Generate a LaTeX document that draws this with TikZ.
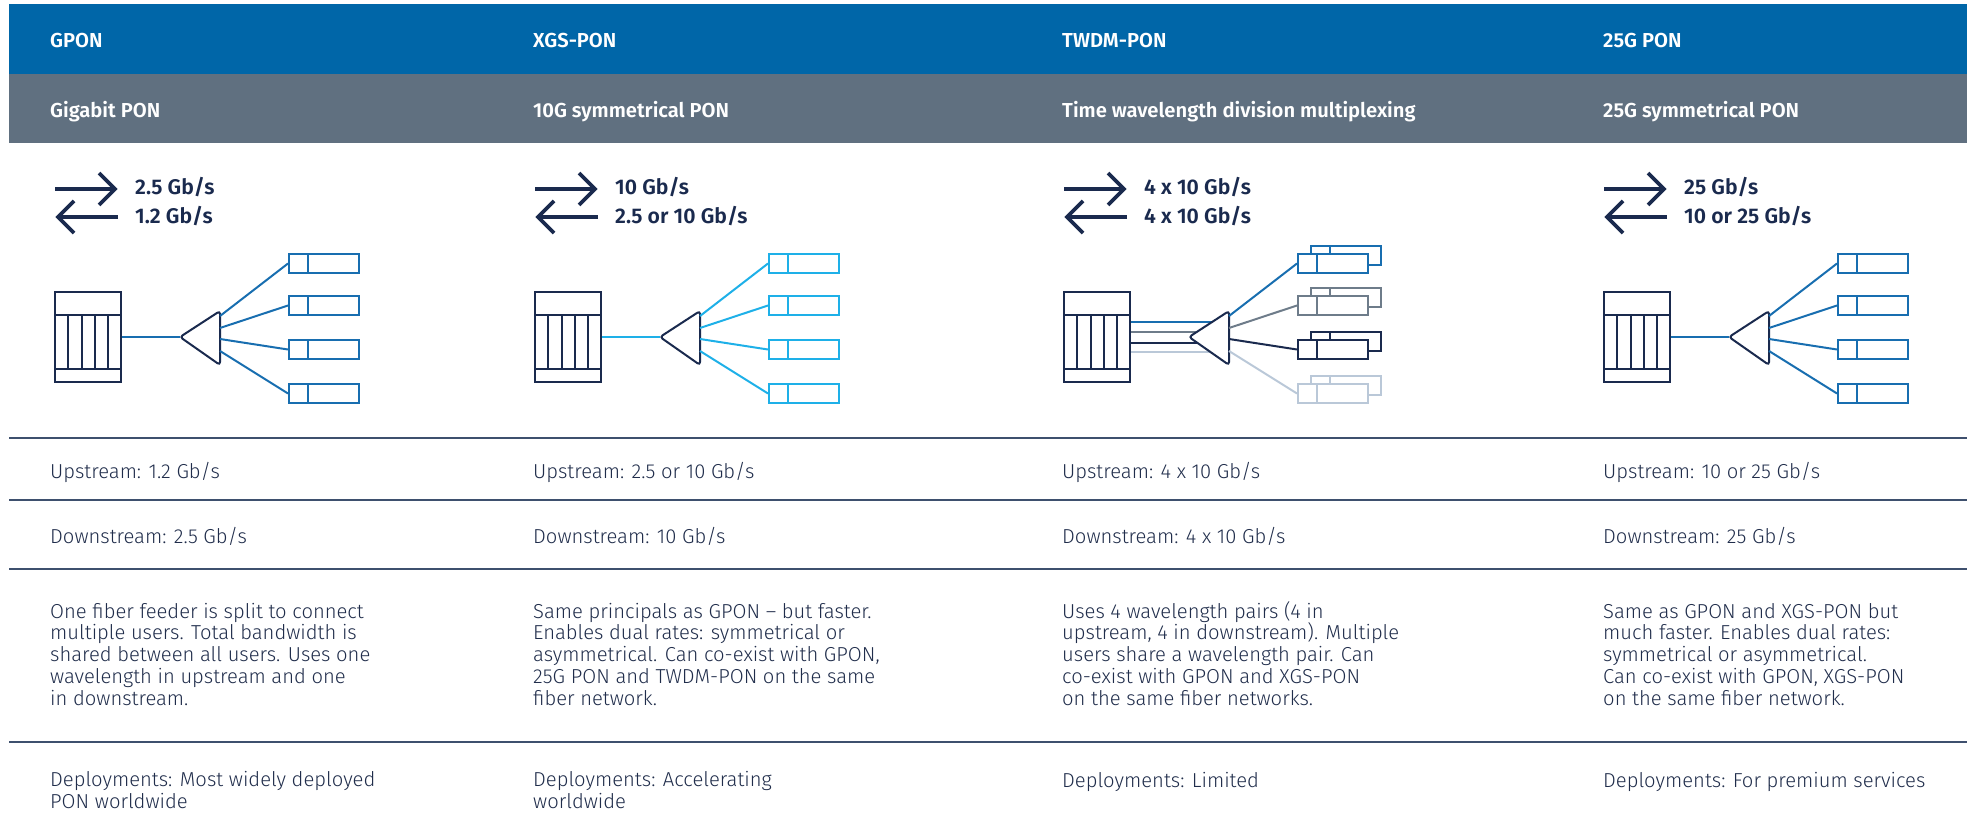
\documentclass[tikz,border=0pt]{standalone}
\usepackage{fontspec}
\IfFontExistsTF{Fira Sans Light}{\newfontfamily\bfont{Fira Sans Light}}{\newfontfamily\bfont{Fira Sans}}
\newfontfamily\firabase{Fira Sans}
\IfFontExistsTF{Fira Sans SemiBold}{\newfontfamily\hfont{Fira Sans SemiBold}}{\newcommand\hfont{\firabase\bfseries}}
\definecolor{bandblue}{RGB}{0,102,168}
\definecolor{bandgray}{RGB}{96,112,128}
\definecolor{navy}{RGB}{26,42,78}
\definecolor{bodytxt}{RGB}{32,45,75}
\definecolor{rulec}{RGB}{62,80,110}
\definecolor{gponblue}{RGB}{24,110,176}
\definecolor{xgscyan}{RGB}{30,176,232}
\definecolor{twgray}{RGB}{110,124,138}
\definecolor{twlight}{RGB}{186,200,216}
\tikzset{
  head/.style={inner sep=0pt, text=white, font=\hfont\fontsize{20.2}{24}\selectfont, anchor=base west},
  rate/.style={inner sep=0pt, text=navy, font=\hfont\fontsize{21.2}{24}\selectfont, anchor=base west},
  body/.style={inner sep=0pt, text=bodytxt, font=\bfont\fontsize{20.2}{21.7}\selectfont, anchor=base west, align=left},
  rulel/.style={draw=rulec, line width=2pt},
  icon/.style={draw=navy, line width=3.8pt, line join=miter},
  olt/.style={draw=navy, line width=2pt, fill=white, minimum width=66pt, minimum height=90pt, inner sep=0pt},
  oltin/.style={draw=navy, line width=2pt},
  splitter/.style={draw=navy, line width=2pt, fill=white, rounded corners=3pt},
  onu/.style={draw=#1, line width=2pt, fill=white, minimum width=70pt, minimum height=19pt, inner sep=0pt},
  onuin/.style={draw=#1, line width=2pt},
  fiber/.style={draw=#1, line width=2pt},
}
\begin{document}
\begin{tikzpicture}[x=1pt,y=-1pt]
\useasboundingbox (0,0) rectangle (1967,832);
% bands
\fill[bandblue] (9,4) rectangle (1967,74);
\fill[bandgray] (9,74) rectangle (1967,143);
% rules
\foreach \yy in {438,500,569,742} \draw[rulel] (9,\yy) -- (1967,\yy);
% headers
\node[head] (h1) at (50,48) {GPON};
\node[head] (h2) at (533,48) {XGS-PON};
\node[head] (h3) at (1062,48) {TWDM-PON};
\node[head] (h4) at (1603,48) {25G PON};
\node[head] (s1) at (50,118) {Gigabit PON};
\node[head] (s2) at (533,118) {10G symmetrical PON};
\node[head] (s3) at (1062,118) {Time wavelength division multiplexing};
\node[head] (s4) at (1603,118) {25G symmetrical PON};
% rate icons
\foreach \i/\gx in {1/55,2/535,3/1064,4/1604}{
  \begin{scope}[xshift=\gx]
    \coordinate (ra\i) at (0,189); \coordinate (rb\i) at (60,189);
    \coordinate (la\i) at (63,217); \coordinate (lb\i) at (3,217);
    \draw[icon] (ra\i) -- (rb\i);
    \draw[icon] (44,173) -- (rb\i) -- (44,205);
    \draw[icon] (la\i) -- (lb\i);
    \draw[icon] (19,201) -- (lb\i) -- (19,233);
  \end{scope}
}
\node[rate] (r1a) at (135,194) {2.5 Gb/s};
\node[rate] (r1b) at (135,223) {1.2 Gb/s};
\node[rate] (r2a) at (615,194) {10 Gb/s};
\node[rate] (r2b) at (615,223) {2.5 or 10 Gb/s};
\node[rate] (r3a) at (1144,194) {4 x 10 Gb/s};
\node[rate] (r3b) at (1144,223) {4 x 10 Gb/s};
\node[rate] (r4a) at (1684,194) {25 Gb/s};
\node[rate] (r4b) at (1684,223) {10 or 25 Gb/s};
% simple PON diagrams
\foreach \i/\gx/\cc in {1/55/gponblue,2/535/xgscyan,4/1604/gponblue}{
  \begin{scope}[xshift=\gx]
    \node[olt] (olt\i) at (33,337) {};
    \draw[oltin] (0,315) -- (66,315) (0,369) -- (66,369);
    \foreach \vx in {13,27,40,53} \draw[oltin] (\vx,315) -- (\vx,369);
    \coordinate (sp\i) at (125,337);
    \draw[fiber=\cc] (olt\i.east) -- (sp\i);
    \draw[splitter] (sp\i) -- (165,311) -- (165,365) -- cycle;
    \foreach \j/\yc/\py in {1/263.5/316,2/305.5/328,3/349.5/339,4/393.5/351}{
      \node[onu=\cc] (onu\i\j) at (269,\yc) {};
      \draw[onuin=\cc] (253,\yc-9.5) -- (253,\yc+9.5);
      \coordinate (po\i\j) at (165,\py);
      \draw[fiber=\cc] (po\i\j) -- (onu\i\j.west);
    }
  \end{scope}
}
% TWDM diagram
\begin{scope}[xshift=1064]
  \node[olt] (olt3) at (33,337) {};
  \draw[oltin] (0,315) -- (66,315) (0,369) -- (66,369);
  \foreach \vx in {13,27,40,53} \draw[oltin] (\vx,315) -- (\vx,369);
  \foreach \j/\yy/\cc in {1/322/gponblue,2/332/twgray,3/343/navy,4/352/twlight}{
    \coordinate (fa\j) at (67,\yy);
    \coordinate (fb\j) at (156,\yy);
    \draw[fiber=\cc] (fa\j) -- (fb\j);
  }
  \coordinate (sp3) at (125,337);
  \draw[splitter] (sp3) -- (165,311) -- (165,365) -- cycle;
  \foreach \j/\yc/\py/\cc in {1/263.5/316/gponblue,2/305.5/328/twgray,3/349.5/339/navy,4/393.5/351/twlight}{
    \node[onu=\cc] (onb\j) at (282,\yc-8) {};
    \draw[onuin=\cc] (266,\yc-17.5) -- (266,\yc+1.5);
    \node[onu=\cc] (onu3\j) at (269,\yc) {};
    \draw[onuin=\cc] (253,\yc-9.5) -- (253,\yc+9.5);
    \coordinate (po3\j) at (165,\py);
    \draw[fiber=\cc] (po3\j) -- (onu3\j.west);
  }
\end{scope}
% table rows (base anchor = baseline of last line)
\node[body] (u1) at (50,478) {Upstream: 1.2 Gb/s};
\node[body] (u2) at (533,478) {Upstream: 2.5 or 10 Gb/s};
\node[body] (u3) at (1062,478) {Upstream: 4 x 10 Gb/s};
\node[body] (u4) at (1603,478) {Upstream: 10 or 25 Gb/s};
\node[body] (d1) at (50,543) {Downstream: 2.5 Gb/s};
\node[body] (d2) at (533,543) {Downstream: 10 Gb/s};
\node[body] (d3) at (1062,543) {Downstream: 4 x 10 Gb/s};
\node[body] (d4) at (1603,543) {Downstream: 25 Gb/s};
\node[body] (t1) at (50,705) {One fiber feeder is split to connect\\multiple users. Total bandwidth is\\shared between all users. Uses one\\wavelength in upstream and one\\in downstream.};
\node[body] (t2) at (533,705) {Same principals as GPON – but faster.\\Enables dual rates: symmetrical or\\asymmetrical. Can co-exist with GPON,\\25G PON and TWDM-PON on the same\\fiber network.};
\node[body] (t3) at (1062,705) {Uses 4 wavelength pairs (4 in\\upstream, 4 in downstream). Multiple\\users share a wavelength pair. Can\\co-exist with GPON and XGS-PON\\on the same fiber networks.};
\node[body] (t4) at (1603,705) {Same as GPON and XGS-PON but\\much faster. Enables dual rates:\\symmetrical or asymmetrical.\\Can co-exist with GPON, XGS-PON\\on the same fiber network.};
\node[body] (e1) at (50,808.5) {Deployments: Most widely deployed\\PON worldwide};
\node[body] (e2) at (533,808.5) {Deployments: Accelerating\\worldwide};
\node[body] (e3) at (1062,787) {Deployments: Limited};
\node[body] (e4) at (1603,787) {Deployments: For premium services};
\end{tikzpicture}
\end{document}
